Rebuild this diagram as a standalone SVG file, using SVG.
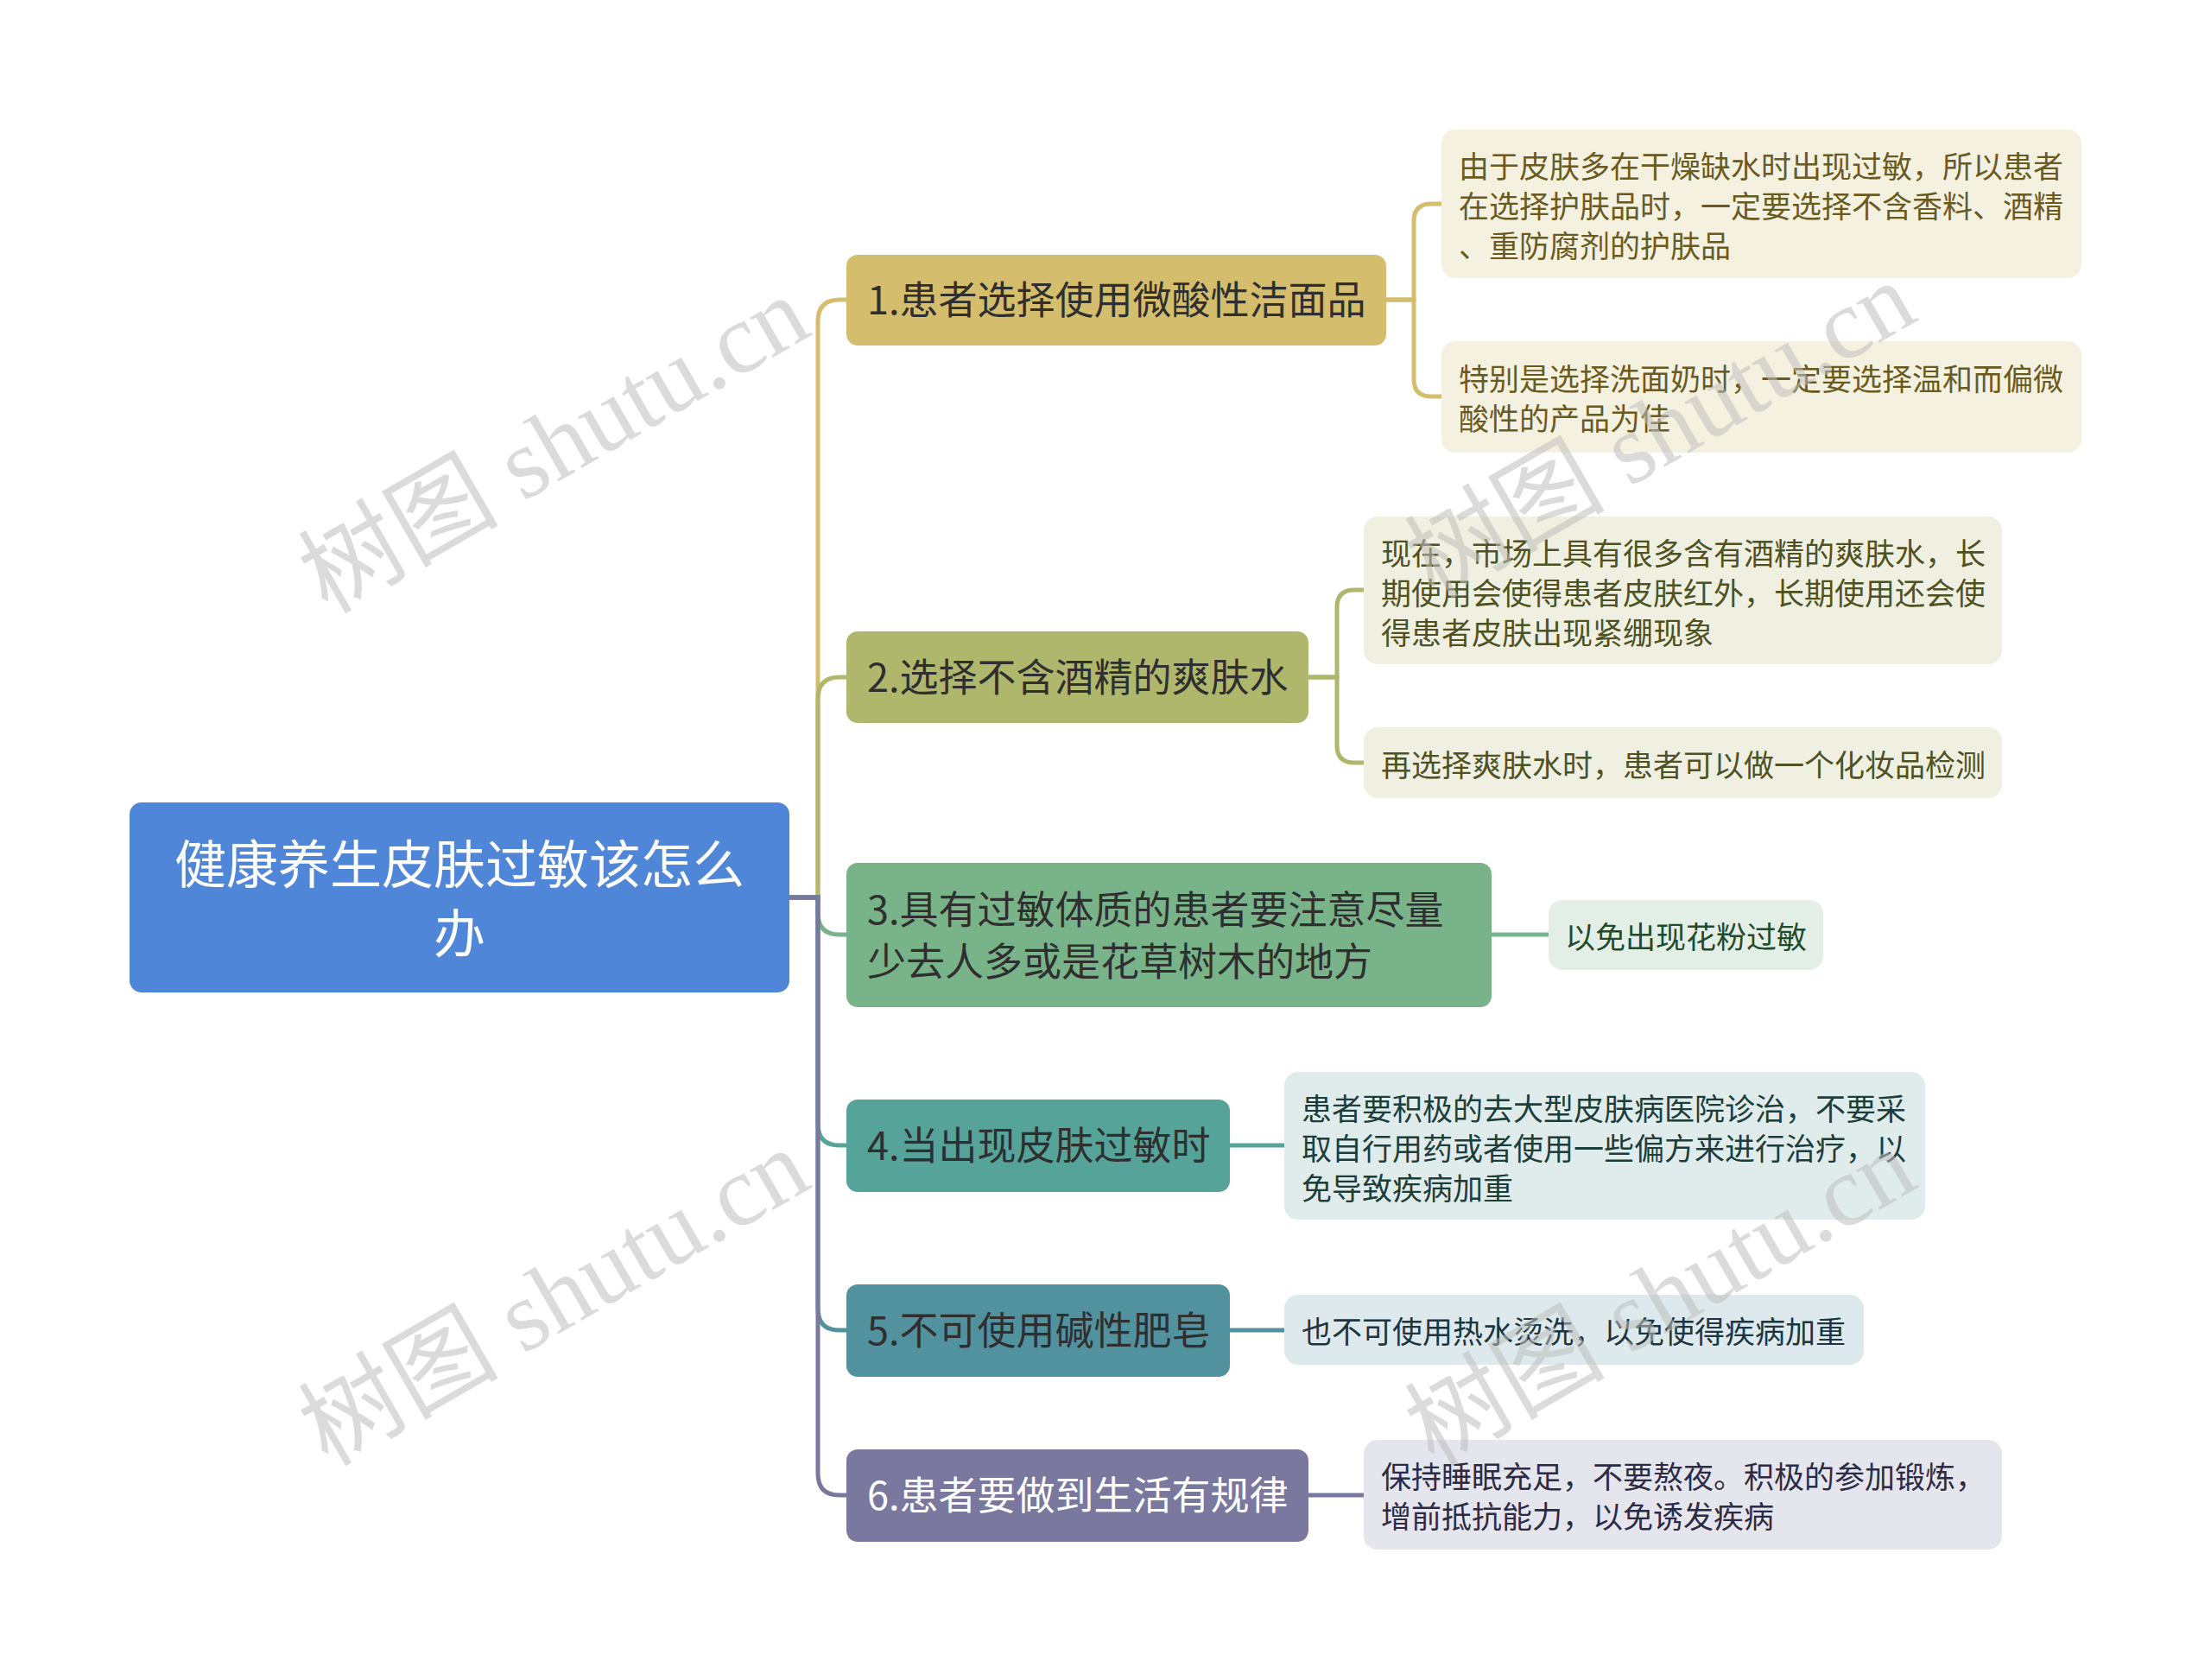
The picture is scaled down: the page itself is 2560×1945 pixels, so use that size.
<svg xmlns="http://www.w3.org/2000/svg" width="2560" height="1945" viewBox="0 0 2560 1945">
<style>
text { font-family: "Noto Sans CJK SC", "Noto Sans", sans-serif; dominant-baseline: central; }
.root { font-size: 60px; fill: #ffffff; text-anchor: middle; }
.sub { font-size: 45px; fill: #2f2f2f; }
.leaf { font-size: 35px; }
.conn { fill: none; stroke-width: 5; }
.wm { font-family: "Liberation Serif", "Noto Sans CJK SC", serif; font-size: 116px; fill: #bdbdbd; fill-opacity: 0.55; dominant-baseline: auto; text-anchor: middle; }
</style>
<rect width="2560" height="1945" fill="#ffffff"/>
<g id="connectors">
  <path class="conn" stroke="#D4BD6C" d="M914 1039 H947 V372 Q947 347 972 347 H980"/>
  <path class="conn" stroke="#AEB76C" d="M914 1039 H947 V809 Q947 784 972 784 H980"/>
  <path class="conn" stroke="#79B38A" d="M914 1039 H947 V1057 Q947 1082 972 1082 H980"/>
  <path class="conn" stroke="#56A39A" d="M914 1039 H947 V1301 Q947 1326 972 1326 H980"/>
  <path class="conn" stroke="#52929F" d="M914 1039 H947 V1515 Q947 1540 972 1540 H980"/>
  <path class="conn" stroke="#7A789E" d="M914 1039 H947 V1706 Q947 1731 972 1731 H980"/>
  <path class="conn" stroke="#D4BD6C" d="M1605 347 H1637 V256 Q1637 236 1657 236 H1669"/>
  <path class="conn" stroke="#D4BD6C" d="M1605 347 H1637 V439 Q1637 459 1657 459 H1669"/>
  <path class="conn" stroke="#AEB76C" d="M1515 784 H1548 V703 Q1548 683 1568 683 H1579"/>
  <path class="conn" stroke="#AEB76C" d="M1515 784 H1548 V863 Q1548 883 1568 883 H1579"/>
  <path class="conn" stroke="#79B38A" d="M1727 1082 H1793"/>
  <path class="conn" stroke="#56A39A" d="M1424 1326 H1487"/>
  <path class="conn" stroke="#52929F" d="M1424 1540 H1487"/>
  <path class="conn" stroke="#7A789E" d="M1515 1731 H1579"/>
</g>
<g id="root">
  <rect x="150" y="929" width="764" height="220" rx="14" fill="#4F86D8"/>
  <text class="root" x="532" y="996">健康养生皮肤过敏该怎么</text>
  <text class="root" x="532" y="1076">办</text>
</g>
<g id="n1">
  <rect x="980" y="295" width="625" height="105" rx="13" fill="#D4BD6C"/>
  <text class="sub" x="1004" y="344">1.患者选择使用微酸性洁面品</text>
</g>
<g id="n1a">
  <rect x="1669" y="150" width="741" height="172" rx="16" fill="#F5F1E0"/>
  <text class="leaf" fill="#6B5A1E" x="1689" y="190">由于皮肤多在干燥缺水时出现过敏，所以患者</text>
  <text class="leaf" fill="#6B5A1E" x="1689" y="236">在选择护肤品时，一定要选择不含香料、酒精</text>
  <text class="leaf" fill="#6B5A1E" x="1689" y="282">、重防腐剂的护肤品</text>
</g>
<g id="n1b">
  <rect x="1669" y="395" width="741" height="129" rx="16" fill="#F5F1E0"/>
  <text class="leaf" fill="#6B5A1E" x="1689" y="436">特别是选择洗面奶时，一定要选择温和而偏微</text>
  <text class="leaf" fill="#6B5A1E" x="1689" y="482">酸性的产品为佳</text>
</g>
<g id="n2">
  <rect x="980" y="731" width="535" height="106" rx="13" fill="#AEB76C"/>
  <text class="sub" x="1004" y="781">2.选择不含酒精的爽肤水</text>
</g>
<g id="n2a">
  <rect x="1579" y="598" width="739" height="171" rx="16" fill="#EFF0E1"/>
  <text class="leaf" fill="#4E5222" x="1599" y="638">现在，市场上具有很多含有酒精的爽肤水，长</text>
  <text class="leaf" fill="#4E5222" x="1599" y="684">期使用会使得患者皮肤红外，长期使用还会使</text>
  <text class="leaf" fill="#4E5222" x="1599" y="730">得患者皮肤出现紧绷现象</text>
</g>
<g id="n2b">
  <rect x="1579" y="842" width="739" height="82" rx="16" fill="#EFF0E1"/>
  <text class="leaf" fill="#4E5222" x="1599" y="883">再选择爽肤水时，患者可以做一个化妆品检测</text>
</g>
<g id="n3">
  <rect x="980" y="999" width="747" height="167" rx="13" fill="#79B38A"/>
  <text class="sub" x="1004" y="1050">3.具有过敏体质的患者要注意尽量</text>
  <text class="sub" x="1004" y="1110">少去人多或是花草树木的地方</text>
</g>
<g id="n3a">
  <rect x="1793" y="1042" width="318" height="81" rx="16" fill="#E3EFE6"/>
  <text class="leaf" fill="#1F4A2B" x="1812" y="1082">以免出现花粉过敏</text>
</g>
<g id="n4">
  <rect x="980" y="1273" width="444" height="107" rx="13" fill="#56A39A"/>
  <text class="sub" x="1004" y="1323">4.当出现皮肤过敏时</text>
</g>
<g id="n4a">
  <rect x="1487" y="1241" width="742" height="171" rx="16" fill="#DFECEB"/>
  <text class="leaf" fill="#1D3D3A" x="1507" y="1281">患者要积极的去大型皮肤病医院诊治，不要采</text>
  <text class="leaf" fill="#1D3D3A" x="1507" y="1327">取自行用药或者使用一些偏方来进行治疗，以</text>
  <text class="leaf" fill="#1D3D3A" x="1507" y="1373">免导致疾病加重</text>
</g>
<g id="n5">
  <rect x="980" y="1487" width="444" height="107" rx="13" fill="#52929F"/>
  <text class="sub" x="1004" y="1537">5.不可使用碱性肥皂</text>
</g>
<g id="n5a">
  <rect x="1487" y="1499" width="671" height="81" rx="16" fill="#DDE9EC"/>
  <text class="leaf" fill="#1C3540" x="1507" y="1539">也不可使用热水烫洗，以免使得疾病加重</text>
</g>
<g id="n6">
  <rect x="980" y="1678" width="535" height="107" rx="13" fill="#7A789E"/>
  <text class="sub" x="1004" y="1728" style="fill:#ffffff">6.患者要做到生活有规律</text>
</g>
<g id="n6a">
  <rect x="1579" y="1667" width="739" height="127" rx="16" fill="#E5E5ED"/>
  <text class="leaf" fill="#2C2B45" x="1599" y="1707">保持睡眠充足，不要熬夜。积极的参加锻炼，</text>
  <text class="leaf" fill="#2C2B45" x="1599" y="1753">增前抵抗能力，以免诱发疾病</text>
</g>
<g id="watermarks">
  <text class="wm" transform="translate(661 549) rotate(-30)">树图 shutu.cn</text>
  <text class="wm" transform="translate(1942 532) rotate(-30)">树图 shutu.cn</text>
  <text class="wm" transform="translate(661 1536) rotate(-30)">树图 shutu.cn</text>
  <text class="wm" transform="translate(1942 1536) rotate(-30)">树图 shutu.cn</text>
</g>
</svg>
